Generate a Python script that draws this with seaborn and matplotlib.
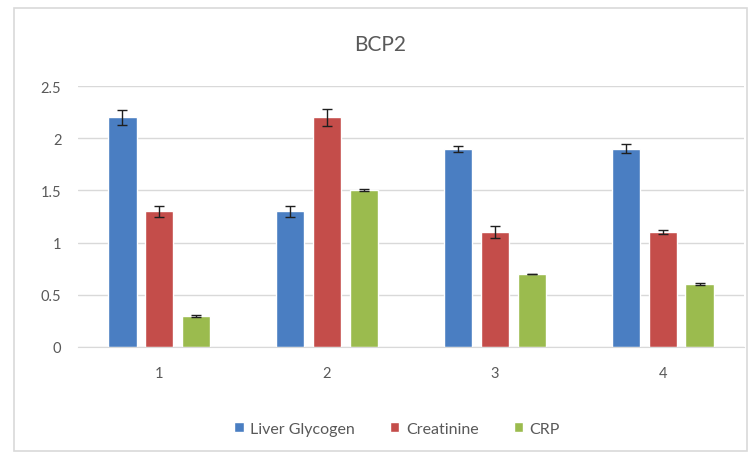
import numpy as np
import pandas as pd
import matplotlib
matplotlib.use("Agg")
import matplotlib.pyplot as plt
from matplotlib.patches import Rectangle
import seaborn as sns

# Chart values
groups = ["1", "2", "3", "4"]
series = ["Liver Glycogen", "Creatinine", "CRP"]
liver = [2.2, 1.3, 1.9, 1.9]
creat = [1.3, 2.2, 1.1, 1.1]
crp = [0.3, 1.5, 0.7, 0.6]
liver_err = [0.07, 0.05, 0.03, 0.04]
creat_err = [0.05, 0.08, 0.06, 0.02]
crp_err = [0.01, 0.01, 0.0, 0.01]
colors = ["#4A7EC2", "#C44D4A", "#9BBB4E"]

df = pd.DataFrame({
    "group": groups * 3,
    "series": [series[0]] * 4 + [series[1]] * 4 + [series[2]] * 4,
    "value": liver + creat + crp,
    "err": liver_err + creat_err + crp_err,
})

sns.set_style("white")
plt.rcParams["font.family"] = ["Lato", "DejaVu Sans"]

fig = plt.figure(figsize=(7.53, 4.56), dpi=100)
# light chart frame like the spreadsheet chart area
fig.patches.append(Rectangle((14 / 753, 4 / 456), 733 / 753, 443 / 456,
                             transform=fig.transFigure, fill=False,
                             edgecolor="#D9D9D9", linewidth=1.2))
ax = fig.add_axes([78 / 753, 108 / 456, 666 / 753, 261 / 456])

sns.barplot(data=df, x="group", y="value", hue="series", palette=colors,
            saturation=1, width=0.657, gap=0.23, errorbar=None, ax=ax,
            legend=True)

# error bars on the bar centres seaborn placed
for bars, (name, sub) in zip(ax.containers, df.groupby("series", sort=False)):
    xs = [b.get_x() + b.get_width() / 2 for b in bars]
    ax.errorbar(xs, sub["value"].values, yerr=sub["err"].values, fmt="none",
                ecolor="#1F1F1F", elinewidth=1, capsize=3.5, capthick=1)

ax.set_ylim(0, 2.5)
ax.set_yticks([0, 0.5, 1, 1.5, 2, 2.5])
ax.set_yticklabels(["0", "0.5", "1", "1.5", "2", "2.5"])
ax.yaxis.grid(True, color="#D9D9D9", linewidth=1)
ax.set_axisbelow(True)
for s in ["top", "right", "left"]:
    ax.spines[s].set_visible(False)
ax.spines["bottom"].set_color("#D9D9D9")
ax.tick_params(axis="both", colors="#595959", labelsize=10.5, length=0)
ax.tick_params(axis="x", pad=14)
ax.tick_params(axis="y", pad=12)
ax.set_xlabel("")
ax.set_ylabel("")
fig.text(380 / 753, 1 - 45 / 456, "BCP2", fontsize=15, color="#595959",
         ha="center", va="center")

ax.legend(loc="center", bbox_to_anchor=(397 / 753, 1 - 430 / 456), ncol=3,
          bbox_transform=fig.transFigure,
          frameon=False, fontsize=11.5, handlelength=0.6, handleheight=0.6,
          handletextpad=0.4, columnspacing=2.2, labelcolor="#595959")

fig.savefig("out.png", dpi=100)
